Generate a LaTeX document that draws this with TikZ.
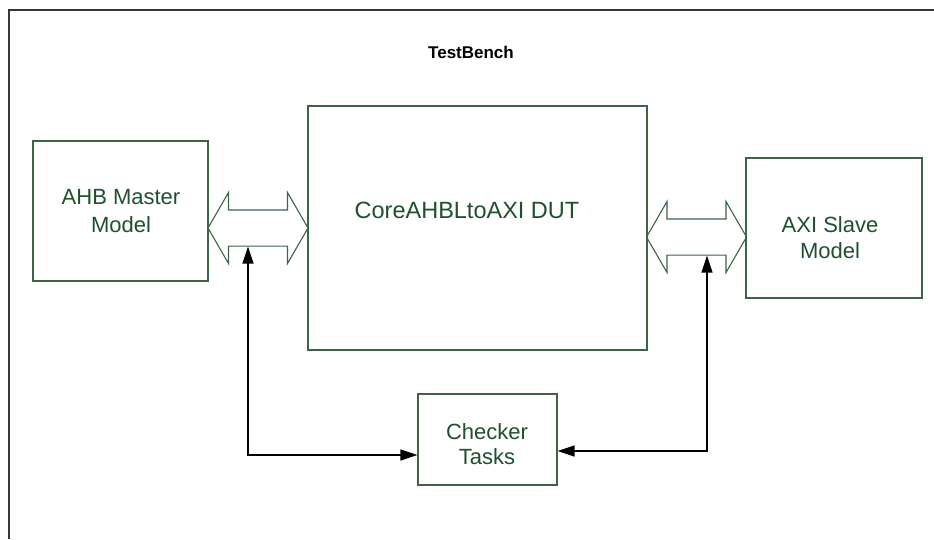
\documentclass[tikz,border=0pt]{standalone}
\usepackage{fontspec}
\setmainfont{Liberation Sans}
\usetikzlibrary{arrows.meta, shapes.arrows, positioning}
\definecolor{BoxGreen}  {RGB}{60, 100, 70}
\definecolor{TextGreen} {RGB}{30,  80, 45}
\definecolor{FrameGray} {RGB}{55,  55, 55}

\begin{document}
\begin{tikzpicture}[
  x=1pt, y=-1pt,
  block/.style={
    draw=BoxGreen, line width=1.1pt,
    inner sep=0pt},
  blocktext/.style={
    text=TextGreen, align=center,
    font=\fontsize{22}{28}\selectfont},
  bus/.style={
    double arrow, draw=BoxGreen, line width=1.1pt,
    double arrow tip angle=120,
    double arrow head extend=17.5pt,
    minimum height=100pt,
    inner xsep=0pt, inner ysep=17.5pt},
  link/.style={
    black, line width=1.3pt,
    {Triangle[length=17pt,width=11pt]}-{Triangle[length=17pt,width=11pt]}}
]
\useasboundingbox (0,0) rectangle (934,539);

% open frame of the test bench
\draw[FrameGray, line width=1.8pt] (9,539) -- (9,10) -- (934,10);
\node[font=\fontsize{17}{20}\selectfont\bfseries] (title)
  at (471,52) {TestBench};

\node[block, minimum width=175pt, minimum height=140pt] (ahb)
  at (120.5,211) {};
\node[blocktext] (ahbtext) at (121,211) {AHB Master\\Model};
\node[block, minimum width=339pt, minimum height=244pt] (dut)
  at (477.5,228) {};
\node[blocktext, font=\fontsize{23.5}{28}\selectfont] (duttext)
  at (467,210) {CoreAHBLtoAXI DUT};
\node[block, minimum width=176pt, minimum height=140pt] (axi)
  at (834,228) {};
\node[blocktext, font=\fontsize{22}{26}\selectfont] (axitext)
  at (830,238) {AXI Slave\\Model};
\node[block, minimum width=139pt, minimum height=91pt] (checker)
  at (487.5,439.5) {};
\node[blocktext, font=\fontsize{22}{25}\selectfont] (checkertext)
  at (487,444) {Checker\\Tasks};

\node[bus] (lbus) at (258,228) {};
\node[bus] (rbus) at (696.5,237) {};

\coordinate (ljoin) at (248,455);
\coordinate (rjoin) at (707,451);
\draw[link] (lbus.south -| ljoin) |- (checker.west |- ljoin);
\draw[link] (rbus.south -| rjoin) |- (checker.east |- rjoin);
\end{tikzpicture}
\end{document}
